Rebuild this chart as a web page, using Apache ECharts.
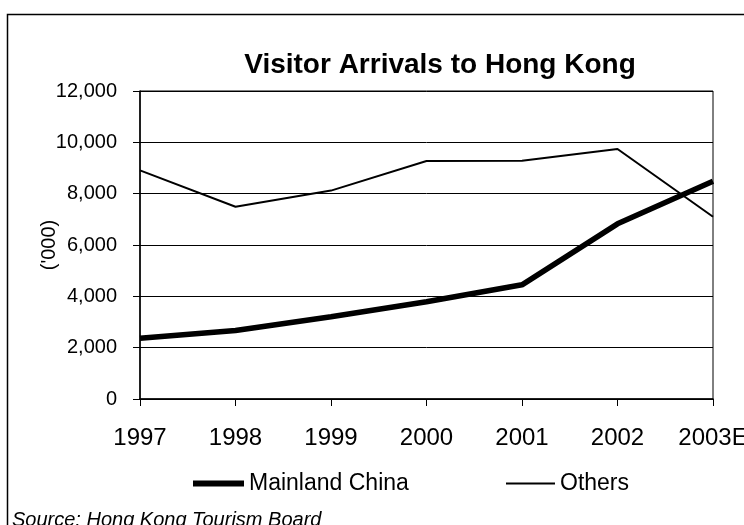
<!DOCTYPE html>
<html>
<head>
<meta charset="utf-8">
<script src="https://cdn.jsdelivr.net/npm/echarts@6/dist/echarts.min.js"></script>
<style>html,body{margin:0;padding:0;background:#fff}#c{width:744px;height:525px}</style>
</head>
<body>
<div id="c"></div>
<script>
var categories = ['1997', '1998', '1999', '2000', '2001', '2002', '2003E'];
var mainlandChina = [2364, 2672, 3206, 3786, 4449, 6825, 8480];
var others = [8910, 7490, 8120, 9270, 9280, 9740, 7100];
var titleText = 'Visitor Arrivals to Hong Kong';
var yAxisName = "('000)";
var sourceText = 'Source: Hong Kong Tourism Board';

var FONT = '"Liberation Sans", Arial, sans-serif';
var chart = echarts.init(document.getElementById('c'), null, {renderer: 'canvas'});
chart.setOption({
  animation: false,
  backgroundColor: '#fff',
  textStyle: {fontFamily: FONT, color: '#000'},
  title: {
    text: titleText, left: 435, textAlign: 'center', top: 46,
    textStyle: {fontFamily: FONT, fontSize: 28, fontWeight: 'bold', color: '#000'}
  },
  grid: {left: 140, right: 31, top: 91, bottom: 126, show: true, borderColor: '#000', borderWidth: 1,
         outerBoundsMode: 'none', containLabel: false},
  legend: [
    {data: ['Mainland China'], left: 188, top: 467, icon: 'rect', itemWidth: 51, itemHeight: 6,
     textStyle: {fontFamily: FONT, fontSize: 23, color: '#000'}},
    {data: ['Others'], left: 501, top: 467, icon: 'rect', itemWidth: 49, itemHeight: 2,
     textStyle: {fontFamily: FONT, fontSize: 23, color: '#000'}}
  ],
  xAxis: {
    type: 'category', data: categories, boundaryGap: false,
    axisLine: {lineStyle: {color: '#000', width: 1.5}},
    axisTick: {show: true, length: 7, lineStyle: {color: '#000'}},
    axisLabel: {fontFamily: FONT, fontSize: 24, color: '#000', margin: 27, showMaxLabel: true, hideOverlap: false},
    splitLine: {show: false}
  },
  yAxis: {
    type: 'value', min: 0, max: 12000, interval: 2000,
    name: yAxisName, nameLocation: 'middle', nameGap: 81, nameRotate: 90, nameMoveOverlap: false,
    nameTextStyle: {fontFamily: FONT, fontSize: 20, color: '#000'},
    axisLine: {show: true, lineStyle: {color: '#000', width: 1.5}},
    axisTick: {show: true, length: 7, lineStyle: {color: '#000'}},
    axisLabel: {fontFamily: FONT, fontSize: 20, color: '#000', margin: 23,
      formatter: function (v) { return v.toLocaleString('en-US'); }},
    splitLine: {show: true, lineStyle: {color: '#000', width: 1}}
  },
  series: [
    {name: 'Mainland China', type: 'line', data: mainlandChina, symbol: 'none',
     color: '#000', lineStyle: {color: '#000', width: 5.5}},
    {name: 'Others', type: 'line', data: others, symbol: 'none',
     color: '#000', lineStyle: {color: '#000', width: 2}}
  ],
  graphic: [
    {type: 'rect', shape: {x: 7.5, y: 14.5, width: 800, height: 600}, silent: true, z: 100,
     style: {fill: 'none', stroke: '#000', lineWidth: 1.5}},
    {type: 'text', left: 12, top: 510, silent: true,
     style: {text: sourceText, font: 'italic 20px ' + FONT, fill: '#000'}}
  ]
});
</script>
</body>
</html>
